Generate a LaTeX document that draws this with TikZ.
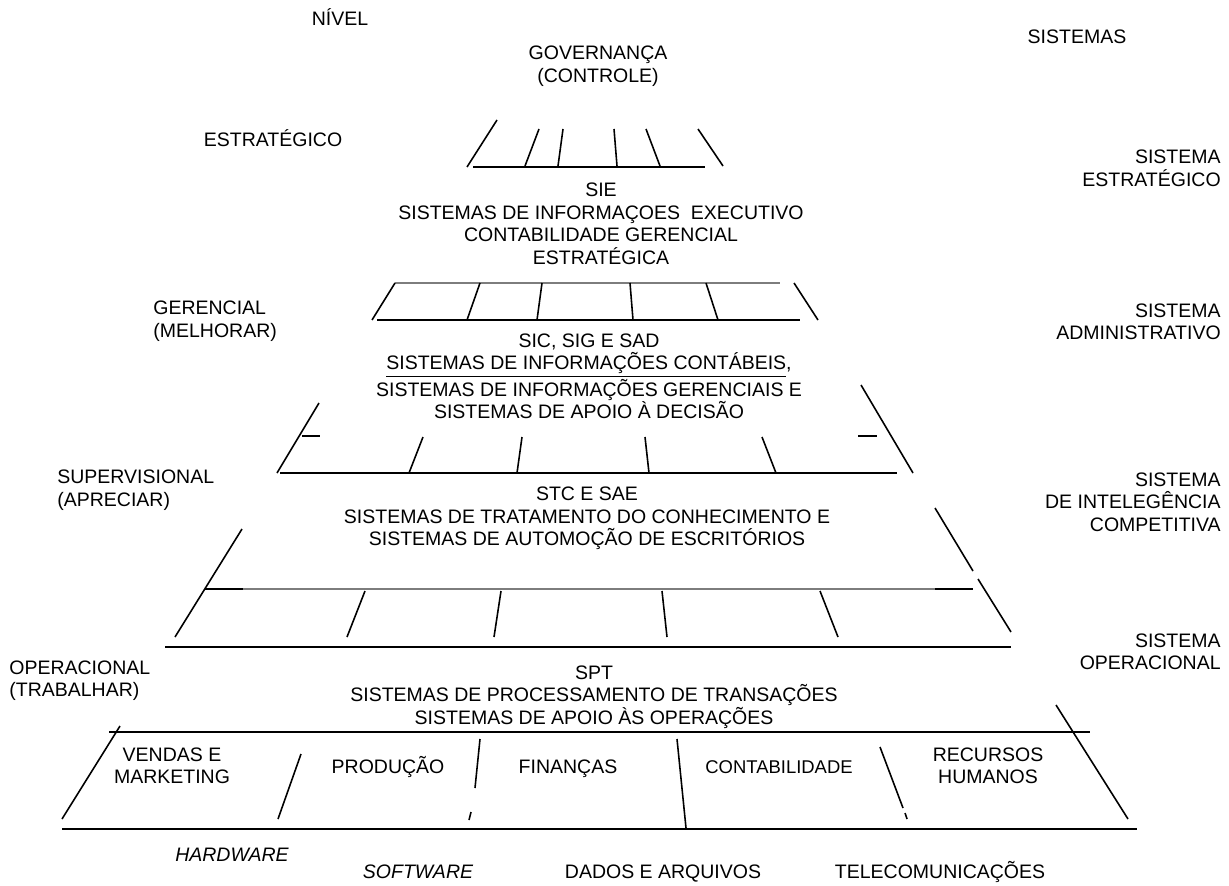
\documentclass[tikz,border=0pt]{standalone}
\usepackage{fontspec}
\setmainfont{Liberation Sans}
\usepackage{tikz}
\usetikzlibrary{positioning}
\definecolor{primary}{RGB}{0,0,0}
\definecolor{grayline}{RGB}{125,125,125}
\tikzset{
  lvltext/.style={inner sep=0pt, align=center, text=primary,
                  font=\fontsize{11.1pt}{12.8pt}\selectfont},
  oneline/.style={lvltext, text height=1.6ex, text depth=0.35ex},
  lvlleft/.style={lvltext, align=left, anchor=west},
  lvlright/.style={lvltext, align=right, anchor=east},
  lvlsmall/.style={oneline, font=\fontsize{10.5pt}{12.8pt}\selectfont},
  lvlital/.style={oneline, font=\fontsize{11.1pt}{12.8pt}\selectfont\itshape},
  edge/.style={line width=1.1pt, color=primary},
  slant/.style={line width=0.9pt, color=primary},
  hair/.style={line width=0.6pt, color=grayline},
}

\begin{document}
\begin{tikzpicture}[x=0.02cm, y=-0.02cm]
  \useasboundingbox (0,0) rectangle (1229,885);
  % column heads
  \node[oneline] (nivel) at (340,20) {NÍVEL};
  \node[oneline] (sistemas) at (1077,38) {SISTEMAS};
  \node[lvltext] (gov) at (598,66) {GOVERNANÇA\\(CONTROLE)};
  % levels (left)
  \node[oneline] (estr) at (273,141) {ESTRATÉGICO};
  \node[lvlleft] (ger) at (153,321) {GERENCIAL\\(MELHORAR)};
  \node[lvlleft] (sup) at (57,490) {SUPERVISIONAL\\(APRECIAR)};
  \node[lvlleft] (oper) at (9,680.5) {OPERACIONAL\\(TRABALHAR)};
  % systems (right)
  \node[lvlright] (sisestr) at (1221,168.5) {SISTEMA\\ESTRATÉGICO};
  \node[lvlright] (sisadm) at (1221,322) {SISTEMA\\ADMINISTRATIVO};
  \node[lvlright] (sisint) at (1221,502) {SISTEMA\\DE INTELEGÊNCIA\\COMPETITIVA};
  \node[lvlright] (sisop) at (1221,652) {SISTEMA\\OPERACIONAL};

  % tier 1
  \draw[slant] (497,120) -- (467,167);
  \draw[edge] (473,167) -- (705,167);
  \foreach \xa/\xb in {539/525, 563/558, 614/617, 646/660}
    \draw[slant] (\xa,129) -- (\xb,166);
  \draw[slant] (698,129) -- (723,166);
  \node[lvltext] (sie) at (601,224) {SIE\\SISTEMAS DE INFORMAÇOES \ EXECUTIVO\\CONTABILIDADE GERENCIAL\\ESTRATÉGICA};

  % tier 2
  \draw[hair] (395,283) -- (780,283);
  \draw[slant] (395,283) -- (372,320);
  \foreach \xa/\xb in {480/467, 542/537, 630/633, 706/718}
    \draw[slant] (\xa,283) -- (\xb,320);
  \draw[slant] (794,283) -- (818,320);
  \draw[edge] (377,320) -- (800,320);
  \node[lvltext] (sic) at (589,376.5) {SIC, SIG E SAD\\\underline{SISTEMAS DE INFORMAÇÕES CONTÁBEIS},\\SISTEMAS DE INFORMAÇÕES GERENCIAIS E\\SISTEMAS DE APOIO À DECISÃO};

  % tier 3
  \draw[slant] (319,403) -- (277,473);
  \draw[slant] (861,385) -- (913,473);
  \draw[edge] (302,436) -- (320,436);
  \draw[edge] (858,436) -- (877,436);
  \foreach \xa/\xb in {423/409, 522/517, 645/649, 762/776}
    \draw[slant] (\xa,437) -- (\xb,473);
  \draw[edge] (280,473) -- (897,473);
  \node[lvltext] (stc) at (587,518.5) {STC E SAE\\SISTEMAS DE TRATAMENTO DO CONHECIMENTO E\\SISTEMAS DE AUTOMOÇÃO DE ESCRITÓRIOS};

  % tier 4
  \draw[hair] (243,589) -- (935,589);
  \draw[edge] (205,589) -- (243,589);
  \draw[edge] (935,589) -- (973,589);
  \draw[slant] (242,529) -- (175,637);
  \draw[slant] (935,508) -- (973,571);
  \draw[slant] (978,579) -- (1011,632);
  \foreach \xa/\xb in {365/347, 501/494, 662/667, 820/838}
    \draw[slant] (\xa,591) -- (\xb,637);
  \draw[edge] (165,647) -- (1011,647);
  \node[lvltext] (spt) at (594,697) {SPT\\SISTEMAS DE PROCESSAMENTO DE TRANSAÇÕES\\SISTEMAS DE APOIO ÀS OPERAÇÕES};

  % functional areas
  \draw[edge] (109,732) -- (1090,732);
  \draw[slant] (120,726) -- (62,819);
  \draw[slant] (1056,705) -- (1128,819);
  \draw[slant] (301,754) -- (278,819);
  \draw[slant] (480,739) -- (475,788);
  \draw[slant] (471,812) -- (469,820);
  \draw[slant] (677,739) -- (686,828);
  \draw[slant] (880,747) -- (903,808);
  \draw[slant] (905,813) -- (907,819);
  \draw[edge] (62,829) -- (1137,829);
  \node[lvltext] (vendas) at (172,766) {VENDAS E\\MARKETING};
  \node[oneline] (prod) at (388,768) {PRODUÇÃO};
  \node[oneline] (fin) at (568,768) {FINANÇAS};
  \node[lvlsmall] (cont) at (779,768) {CONTABILIDADE};
  \node[lvltext] (rh) at (988,766) {RECURSOS\\HUMANOS};

  % base
  \node[lvlital] (hw) at (232,856) {HARDWARE};
  \node[lvlital] (sw) at (418,873) {SOFTWARE};
  \node[oneline] (dados) at (663,873) {DADOS E ARQUIVOS};
  \node[oneline] (tele) at (940,873) {TELECOMUNICAÇÕES};
\end{tikzpicture}
\end{document}
